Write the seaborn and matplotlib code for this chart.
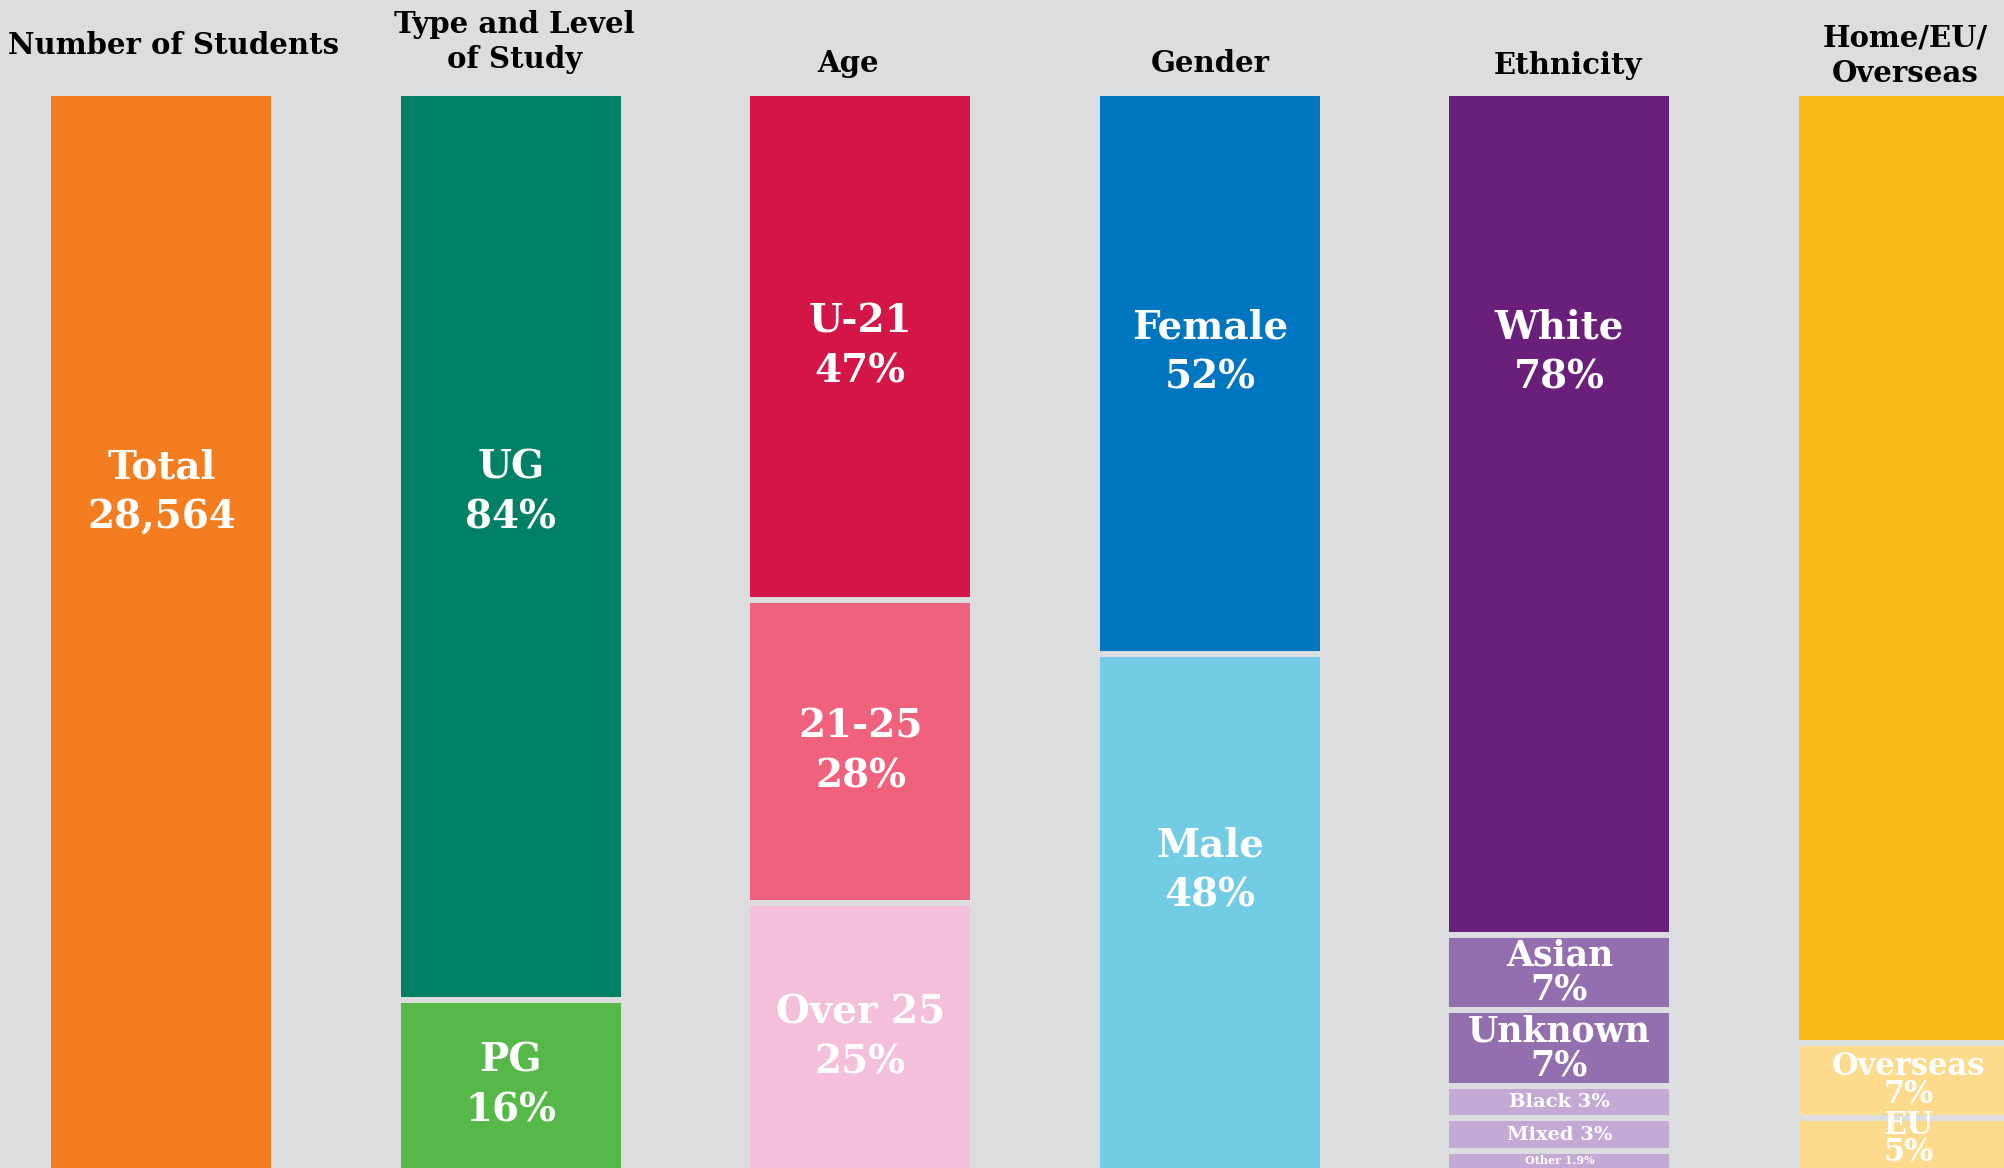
import pandas as pd
import seaborn as sns
import matplotlib.pyplot as plt

# column keys / titles
col_keys = ["students", "study", "age", "gender", "ethnicity", "home"]
titles = ["Number of Students", "Type and Level\nof Study", "Age", "Gender",
          "Ethnicity", "Home/EU/\nOverseas"]

# segments of each column, top to bottom, in % of students
total_students = 28564
total_segs = ["Total"]
total_pct = [100]
study_segs = ["UG", "PG"]
study_pct = [84, 16]
age_segs = ["U-21", "21-25", "Over 25"]
age_pct = [47, 28, 25]
gender_segs = ["Female", "Male"]
gender_pct = [52, 48]
eth_segs = ["White", "Asian", "Unknown", "Black", "Mixed", "Other"]
eth_pct = [78, 7, 7, 3, 3, 1.9]
home_segs = ["Home", "Overseas", "EU"]
home_pct = [88, 7, 5]

bg = "#dcdddf"
colors = {
    "Total": "#f47d20",
    "UG": "#008066", "PG": "#57b84a",
    "U-21": "#d31548", "21-25": "#f0617d", "Over 25": "#f3bfda",
    "Female": "#0075c0", "Male": "#71cce4",
    "White": "#6a1f7a", "Asian": "#936fb0", "Unknown": "#936fb0",
    "Black": "#c3a9d3", "Mixed": "#c3a9d3", "Other": "#c3a9d3",
    "Home": "#fbb917", "Overseas": "#fddb8c", "EU": "#fddb8c",
}

# build long table
rows = []
for key, segs, pcts in zip(col_keys,
                           [total_segs, study_segs, age_segs, gender_segs, eth_segs, home_segs],
                           [total_pct, study_pct, age_pct, gender_pct, eth_pct, home_pct]):
    cum = 0
    for lvl, (s, p) in enumerate(zip(segs, pcts)):
        rows.append(dict(col=key, seg=s, pct=p, level=lvl,
                         start=cum, end=cum + p, mid=cum + p / 2))
        cum += p
df = pd.DataFrame(rows)

fig = plt.figure(figsize=(20.04, 11.68), dpi=100)
fig.patch.set_facecolor(bg)
ax = fig.add_axes([0, 0, 1, 1])

# cumulative bars drawn back to front, bg-coloured edges give the gaps
for lvl in range(df.level.max(), -1, -1):
    sub = df[df.level == lvl]
    sns.barplot(ax=ax, data=sub, x="col", y="end", hue="seg", palette=colors,
                order=col_keys, dodge=False, legend=False, errorbar=None,
                width=0.647, saturation=1, edgecolor=bg, linewidth=4.3)

ax.set_xlim(-0.4618, 5.272)
ax.set_ylim(99.6, -8.65)
ax.axis("off")

# titles
title_y = [46, 42, 63, 63, 65, 56]
title_dx = [0.035, 0.01, -0.035, 0, 0.025, -0.01]
for i, (t, ty, dx) in enumerate(zip(titles, title_y, title_dx)):
    ax.text(i + dx, 1 - ty / 1168, t, transform=ax.get_xaxis_transform(),
            ha="center", va="center", fontsize=21, fontweight="bold",
            family="DejaVu Serif", color="black", linespacing=1.3)

# segment labels
shift = {"Total": -13, "UG": -5, "White": -15, "Female": -2, "Male": -4}
medium = ["Asian", "Unknown"]
tight = ["Overseas", "EU"]
small = ["Black", "Mixed"]
for _, r in df.iterrows():
    i = col_keys.index(r.col)
    if r.seg == "Home":
        continue
    if r.seg == "Total":
        txt = f"Total\n{total_students:,}"
    elif r.seg in small or r.seg == "Other":
        txt = f"{r.seg} {r.pct:g}%"
    else:
        txt = f"{r.seg}\n{r.pct:g}%"
    y, va = r.mid + shift.get(r.seg, 0), "center"
    if r.seg in medium:
        fs, ls = 25, 1.0
    elif r.seg in tight:
        fs, ls = 22, 0.85
        if r.seg == "EU":
            y, va = ax.get_ylim()[0], "bottom"
    elif r.seg in small:
        fs, ls = 14, 1
    elif r.seg == "Other":
        fs, ls = 8, 1
    else:
        fs, ls = 28, 1.4
    ax.text(i, y, txt, ha="center", va=va,
            fontsize=fs, fontweight="bold", family="DejaVu Serif",
            color="white", linespacing=ls)

fig.savefig("out.png", dpi=100, facecolor=bg)
